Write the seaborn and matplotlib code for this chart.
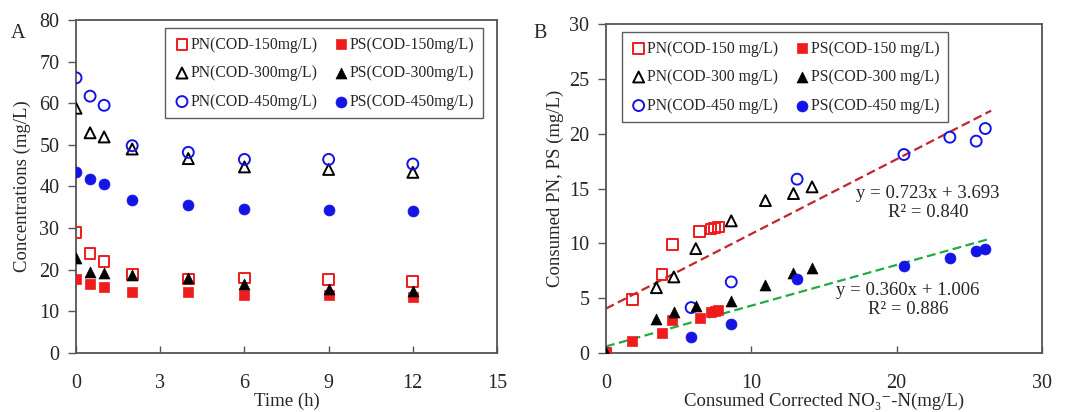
import numpy as np
import pandas as pd
import seaborn as sns
import matplotlib.pyplot as plt

# ---- panel A: concentrations over time ----
time_h = [0, 0.5, 1, 2, 4, 6, 9, 12]
pn150_a = [28.9, 23.9, 21.9, 18.9, 17.8, 18.0, 17.6, 17.2]
ps150_a = [17.8, 16.6, 15.8, 14.6, 14.6, 14.0, 13.9, 13.5]
pn300_a = [58.8, 52.9, 51.9, 49.0, 46.7, 44.7, 44.1, 43.4]
ps300_a = [22.8, 19.5, 19.1, 18.7, 17.9, 16.5, 15.4, 14.9]
pn450_a = [66.1, 61.7, 59.5, 49.8, 48.2, 46.5, 46.5, 45.4]
ps450_a = [43.5, 41.9, 40.7, 36.7, 35.5, 34.7, 34.3, 34.0]

# ---- panel B: consumed PN/PS vs consumed nitrate ----
no3_150 = [0, 1.8, 3.85, 4.57, 6.45, 7.22, 7.48, 7.72]
pn150_b = [0, 4.9, 7.18, 9.89, 11.1, 11.3, 11.4, 11.5]
ps150_b = [0, 1.06, 1.86, 2.98, 3.19, 3.71, 3.8, 3.92]
no3_300 = [0, 3.47, 4.67, 6.18, 8.62, 10.97, 12.9, 14.18]
pn300_b = [0, 5.96, 6.94, 9.52, 12.05, 13.9, 14.54, 15.15]
ps300_b = [0, 3.13, 3.74, 4.26, 4.75, 6.18, 7.3, 7.79]
no3_450 = [5.86, 8.62, 13.15, 20.5, 23.66, 25.47, 26.1]
pn450_b = [4.14, 6.48, 15.85, 18.1, 19.68, 19.32, 20.47]
ps450_b = [1.46, 2.68, 6.75, 7.91, 8.7, 9.31, 9.52]

# trend lines as drawn (end points) and their labels
fit_x = [0, 26.5]
pn_line = [4.05, 22.1]
ps_line = [0.6, 10.45]
pn_eq = 'y = 0.723x + 3.693\nR² = 0.840'
ps_eq = 'y = 0.360x + 1.006\nR² = 0.886'

sns.set_theme(style="white")
plt.rcParams['font.family'] = ['Liberation Serif', 'DejaVu Serif']

RED, BLACK, BLUE = '#ee1c1c', '#000000', '#1414e6'
TICK_FS = 14.5
LAB_FS = 13.5

fig = plt.figure(figsize=(10.65, 4.12), dpi=100)
axA = fig.add_axes([0.0714, 0.1432, 0.3953, 0.8083])
axB = fig.add_axes([0.569, 0.1432, 0.4094, 0.7985])


def draw(ax, x, y, marker, color, filled, label, s):
    if filled:
        sns.scatterplot(x=x, y=y, ax=ax, marker=marker, color=color,
                        edgecolor=color, linewidth=0.5, s=s, label=label, zorder=3)
    else:
        sns.scatterplot(x=x, y=y, ax=ax, marker=marker, color=color,
                        facecolor='none', edgecolor=color, linewidth=1.4,
                        s=s, label=label, zorder=3)


def series(ax, pn150, pn300, pn450, ps150, ps300, ps450, x150, x300, x450, unit):
    # order: first column PN, second column PS
    draw(ax, x150, pn150, 's', RED, False, f'PN(COD-150{unit}mg/L)', 60)
    draw(ax, x300, pn300, '^', BLACK, False, f'PN(COD-300{unit}mg/L)', 62)
    draw(ax, x450, pn450, 'o', BLUE, False, f'PN(COD-450{unit}mg/L)', 62)
    draw(ax, x150, ps150, 's', RED, True, f'PS(COD-150{unit}mg/L)', 60)
    draw(ax, x300, ps300, '^', BLACK, True, f'PS(COD-300{unit}mg/L)', 62)
    draw(ax, x450, ps450, 'o', BLUE, True, f'PS(COD-450{unit}mg/L)', 62)


series(axA, pn150_a, pn300_a, pn450_a, ps150_a, ps300_a, ps450_a,
       time_h, time_h, time_h, '')
series(axB, pn150_b, pn300_b, pn450_b, ps150_b, ps300_b, ps450_b,
       no3_150, no3_300, no3_450, ' ')

# fitted lines in B
sns.lineplot(x=fit_x, y=pn_line, ax=axB, color='#c0272d', lw=1.6,
             dashes=False, zorder=2).lines[-1].set_dashes((4, 2))
sns.lineplot(x=fit_x, y=ps_line, ax=axB, color='#22aa44', lw=1.6,
             dashes=False, zorder=2).lines[-1].set_dashes((4, 2))
axB.text(0.738, 0.455, pn_eq, transform=axB.transAxes, ha='center', va='center',
         fontsize=13.5, linespacing=1.15)
axB.text(0.693, 0.16, ps_eq, transform=axB.transAxes, ha='center', va='center',
         fontsize=13.5, linespacing=1.15)

for ax in (axA, axB):
    for sp in ax.spines.values():
        sp.set_color('#555555')
        sp.set_linewidth(1.3)
    ax.tick_params(axis='x', direction='in', length=5, width=1, color='#555555',
                   pad=15, labelsize=TICK_FS, bottom=True)
    ax.tick_params(axis='y', direction='out', length=6, width=1, color='#555555',
                   pad=6, labelsize=TICK_FS, left=True)
    ax.grid(False)
    leg = ax.legend(ncol=2, fontsize=11.3, frameon=True, fancybox=False,
                    edgecolor='#333333', handletextpad=0.05, columnspacing=1.0,
                    borderpad=0.55, labelspacing=0.8, loc='upper right',
                    borderaxespad=0,
                    bbox_to_anchor=(0.967, 0.976) if ax is axA else (0.784, 0.976),
                    markerscale=1.0, handlelength=1.0)
    leg.get_frame().set_linewidth(1.0)

axA.set_xlim(0, 15)
axA.set_ylim(0, 80)
axA.set_xticks(range(0, 16, 3))
axA.set_yticks(range(0, 81, 10))
axA.set_xlabel('Time (h)', fontsize=LAB_FS, labelpad=0)
axA.set_ylabel('Concentrations (mg/L)', fontsize=LAB_FS, labelpad=6)

axB.set_xlim(0, 30)
axB.set_ylim(0, 30)
axB.set_xticks([0, 10, 20, 30])
axB.set_yticks(range(0, 31, 5))
axB.set_xlabel('Consumed Corrected NO₃⁻-N(mg/L)', fontsize=LAB_FS, labelpad=0)
axB.set_ylabel('Consumed PN, PS (mg/L)', fontsize=LAB_FS, labelpad=4)

fig.text(18 / 1065, 1 - 33 / 412, 'A', fontsize=TICK_FS, va='center', ha='center')
fig.text(540 / 1065, 1 - 33 / 412, 'B', fontsize=TICK_FS, va='center', ha='center')

fig.savefig('out.png', dpi=100)
